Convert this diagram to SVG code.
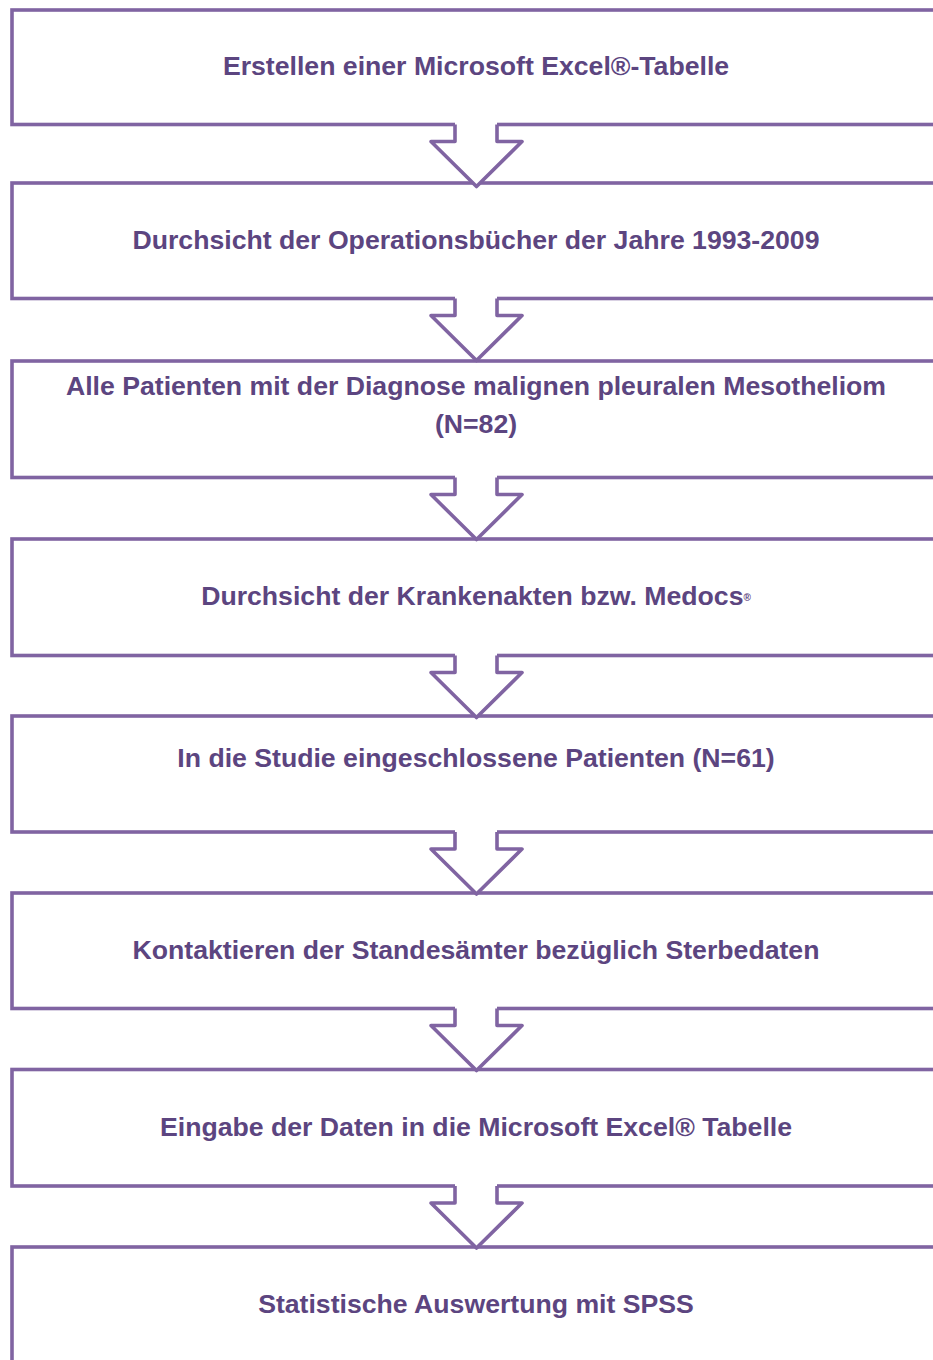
<svg xmlns="http://www.w3.org/2000/svg" width="933" height="1360" viewBox="0 0 933 1360">
<style>
.box{fill:#FFFFFF;stroke:#8064A2;stroke-width:3.6}
.af{fill:#FFFFFF;stroke:none}
.as{fill:none;stroke:#8064A2;stroke-width:3.6;stroke-linejoin:round}
.t{font-family:"Liberation Sans",Arial,sans-serif;font-weight:bold;font-size:26.65px;fill:#5C4580;text-anchor:middle}
</style>
<rect width="933" height="1360" fill="#FFFFFF"/>
<g id="node1"><rect class="box" x="12" y="10" width="940" height="114.5"/><text class="t" x="476" y="75">Erstellen einer Microsoft Excel®-Tabelle</text></g>
<g id="node2"><rect class="box" x="12" y="183" width="940" height="115.5"/><text class="t" x="476" y="248.5">Durchsicht der Operationsbücher der Jahre 1993-2009</text></g>
<g id="node3"><rect class="box" x="12" y="361" width="940" height="116.5"/><text class="t" x="476" y="395">Alle Patienten mit der Diagnose malignen pleuralen Mesotheliom</text><text class="t" x="476" y="433">(N=82)</text></g>
<g id="node4"><rect class="box" x="12" y="539" width="940" height="116.5"/><text class="t" x="476" y="604.5">Durchsicht der Krankenakten bzw. Medocs<tspan font-size="10" dy="-4">®</tspan></text></g>
<g id="node5"><rect class="box" x="12" y="716" width="940" height="116"/><text class="t" x="476" y="766.5">In die Studie eingeschlossene Patienten (N=61)</text></g>
<g id="node6"><rect class="box" x="12" y="893" width="940" height="115.5"/><text class="t" x="476" y="958.5">Kontaktieren der Standesämter bezüglich Sterbedaten</text></g>
<g id="node7"><rect class="box" x="12" y="1069.5" width="940" height="116.5"/><text class="t" x="476" y="1135.5">Eingabe der Daten in die Microsoft Excel® Tabelle</text></g>
<g id="node8"><rect class="box" x="12" y="1247" width="940" height="140"/><text class="t" x="476" y="1312.5">Statistische Auswertung mit SPSS</text></g>
<g id="connectors">
<g transform="translate(0,124.5)"><polygon class="af" points="455,-3 497,-3 497,17 522,17 476.5,62 431,17 455,17"/><polyline class="as" points="455,0 455,17 431,17 476.5,62 522,17 497,17 497,0"/></g>
<g transform="translate(0,298.5)"><polygon class="af" points="455,-3 497,-3 497,17 522,17 476.5,62 431,17 455,17"/><polyline class="as" points="455,0 455,17 431,17 476.5,62 522,17 497,17 497,0"/></g>
<g transform="translate(0,477.5)"><polygon class="af" points="455,-3 497,-3 497,17 522,17 476.5,62 431,17 455,17"/><polyline class="as" points="455,0 455,17 431,17 476.5,62 522,17 497,17 497,0"/></g>
<g transform="translate(0,655.5)"><polygon class="af" points="455,-3 497,-3 497,17 522,17 476.5,62 431,17 455,17"/><polyline class="as" points="455,0 455,17 431,17 476.5,62 522,17 497,17 497,0"/></g>
<g transform="translate(0,832)"><polygon class="af" points="455,-3 497,-3 497,17 522,17 476.5,62 431,17 455,17"/><polyline class="as" points="455,0 455,17 431,17 476.5,62 522,17 497,17 497,0"/></g>
<g transform="translate(0,1008.5)"><polygon class="af" points="455,-3 497,-3 497,17 522,17 476.5,62 431,17 455,17"/><polyline class="as" points="455,0 455,17 431,17 476.5,62 522,17 497,17 497,0"/></g>
<g transform="translate(0,1186)"><polygon class="af" points="455,-3 497,-3 497,17 522,17 476.5,62 431,17 455,17"/><polyline class="as" points="455,0 455,17 431,17 476.5,62 522,17 497,17 497,0"/></g>
</g>
</svg>
